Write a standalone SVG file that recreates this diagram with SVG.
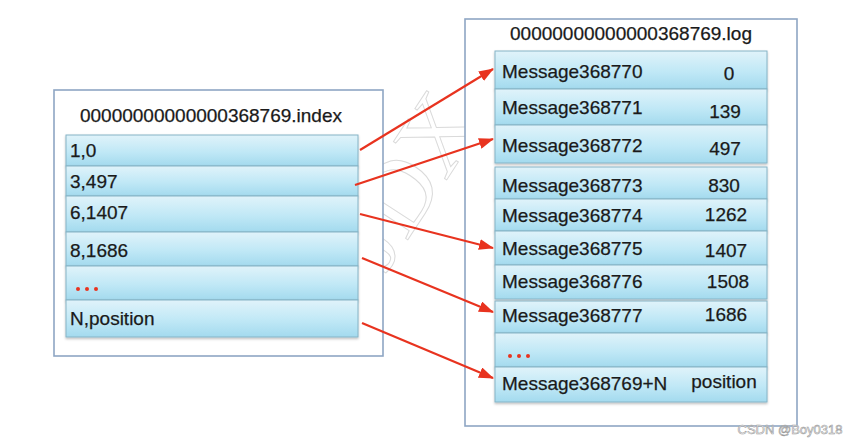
<svg xmlns="http://www.w3.org/2000/svg" width="857" height="447" viewBox="0 0 857 447">
<defs>
<linearGradient id="cell" x1="0" y1="0" x2="0" y2="1">
<stop offset="0" stop-color="#e0f3fa"/>
<stop offset="0.55" stop-color="#c0e8f6"/>
<stop offset="1" stop-color="#a3daee"/>
</linearGradient>
<filter id="sh" x="-5%" y="-20%" width="110%" height="150%">
<feDropShadow dx="0" dy="1.5" stdDeviation="1" flood-color="#000" flood-opacity="0.25"/>
</filter>
<marker id="ah" viewBox="0 0 15 11" refX="14" refY="5.5" markerWidth="15" markerHeight="11" markerUnits="userSpaceOnUse" orient="auto">
<path d="M0,0 L15,5.5 L0,11 Z" fill="#e8331f"/>
</marker>
<style>
.outer{fill:#fff;stroke:#8ea6c4;stroke-width:1.6}
.cell{fill:url(#cell);stroke:#86b4c6;stroke-width:1;filter:url(#sh)}
.t{font-family:"Liberation Sans",Arial,sans-serif;font-size:19px;fill:#1a1a1a;stroke:#1a1a1a;stroke-width:0.25}
.n{font-family:"Liberation Sans",Arial,sans-serif;font-size:19px;fill:#1a1a1a;stroke:#1a1a1a;stroke-width:0.25;text-anchor:middle}
.dots{fill:#e8331f}
.conn{stroke:#e8331f;stroke-width:2.2;fill:none;marker-end:url(#ah)}
.wm{font-family:"Liberation Serif",serif;font-size:100px;fill:none;stroke:#dadada;stroke-width:1}
</style>
</defs>
<rect width="857" height="447" fill="#fff"/>
<text class="wm" transform="translate(385,275) rotate(-57)">JDX</text>

<g id="index-file">
<rect class="outer" x="54" y="90" width="329" height="266"/>
<text class="t" x="211" y="122" text-anchor="middle">00000000000000368769.index</text>
</g>
<g id="idx-1">
<rect class="cell" x="66" y="135" width="292" height="31"/>
<text class="t" x="70" y="157">1,0</text>
</g>
<g id="idx-2">
<rect class="cell" x="66" y="166" width="292" height="30"/>
<text class="t" x="70" y="188">3,497</text>
</g>
<g id="idx-3">
<rect class="cell" x="66" y="196" width="292" height="36"/>
<text class="t" x="70" y="219">6,1407</text>
</g>
<g id="idx-4">
<rect class="cell" x="66" y="232" width="292" height="34"/>
<text class="t" x="70" y="257">8,1686</text>
</g>
<g id="idx-5">
<rect class="cell" x="66" y="266" width="292" height="34"/>
<circle class="dots" cx="78" cy="289" r="2"/><circle class="dots" cx="87" cy="289" r="2"/><circle class="dots" cx="96" cy="289" r="2"/>
</g>
<g id="idx-6">
<rect class="cell" x="66" y="300" width="292" height="37"/>
<text class="t" x="70" y="325">N,position</text>
</g>

<g id="log-file">
<rect class="outer" x="465" y="19" width="332" height="407"/>
<text class="t" x="631" y="40" text-anchor="middle">00000000000000368769.log</text>
</g>
<g id="log-1">
<rect class="cell" x="495" y="51" width="272" height="38"/>
<text class="t" x="502" y="78">Message368770</text><text class="n" x="729" y="80">0</text>
</g>
<g id="log-2">
<rect class="cell" x="495" y="89" width="272" height="36"/>
<text class="t" x="502" y="114">Message368771</text><text class="n" x="725" y="118">139</text>
</g>
<g id="log-3">
<rect class="cell" x="495" y="125" width="272" height="38"/>
<text class="t" x="502" y="152">Message368772</text><text class="n" x="725" y="155">497</text>
</g>
<g id="log-4">
<rect class="cell" x="495" y="167" width="272" height="32"/>
<text class="t" x="502" y="192">Message368773</text><text class="n" x="724" y="192">830</text>
</g>
<g id="log-5">
<rect class="cell" x="495" y="199" width="272" height="32"/>
<text class="t" x="502" y="222">Message368774</text><text class="n" x="726" y="221">1262</text>
</g>
<g id="log-6">
<rect class="cell" x="495" y="231" width="272" height="34"/>
<text class="t" x="502" y="255">Message368775</text><text class="n" x="726" y="257">1407</text>
</g>
<g id="log-7">
<rect class="cell" x="495" y="265" width="272" height="34"/>
<text class="t" x="502" y="288">Message368776</text><text class="n" x="728" y="288">1508</text>
</g>
<g id="log-8">
<rect class="cell" x="495" y="301" width="272" height="32"/>
<text class="t" x="502" y="322">Message368777</text><text class="n" x="726" y="321">1686</text>
</g>
<g id="log-9">
<rect class="cell" x="495" y="333" width="272" height="34"/>
<circle class="dots" cx="510" cy="356" r="2"/><circle class="dots" cx="519" cy="356" r="2"/><circle class="dots" cx="528" cy="356" r="2"/>
</g>
<g id="log-10">
<rect class="cell" x="495" y="367" width="272" height="35"/>
<text class="t" x="502" y="390">Message368769+N</text><text class="n" x="724" y="388">position</text>
</g>

<g id="connectors">
<line class="conn" x1="360" y1="150" x2="493" y2="69"/>
<line class="conn" x1="355" y1="185" x2="493" y2="139"/>
<line class="conn" x1="360" y1="214" x2="493" y2="248"/>
<line class="conn" x1="362" y1="258" x2="493" y2="312"/>
<line class="conn" x1="362" y1="323" x2="493" y2="378"/>
</g>

<text x="790" y="434" text-anchor="middle" font-family="'Liberation Sans',Arial,sans-serif" font-size="13" fill="#fff" stroke="#9a9a9a" stroke-width="0.6">CSDN @Boy0318</text>
</svg>
